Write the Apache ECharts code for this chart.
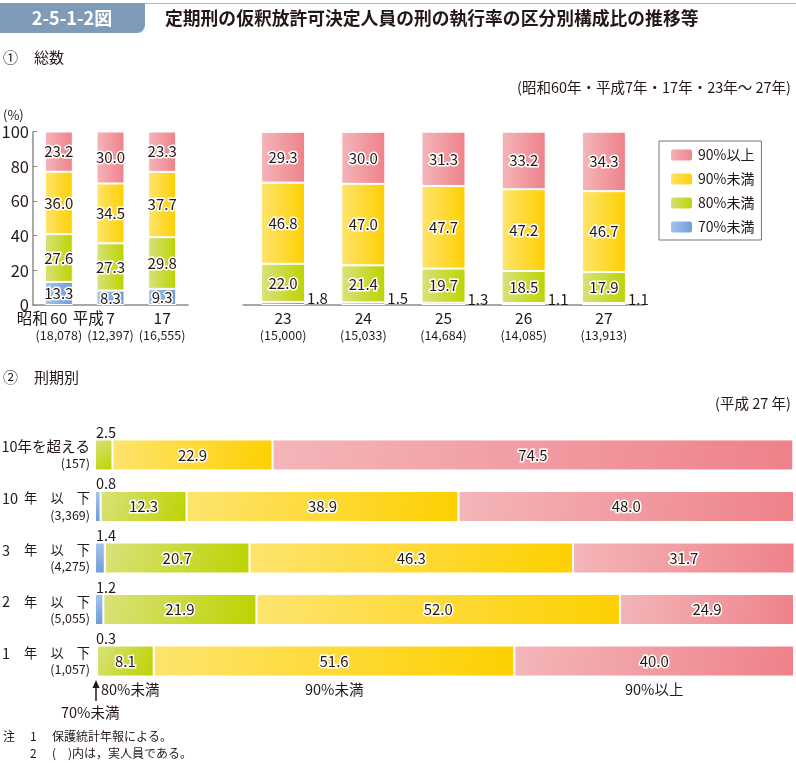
<!DOCTYPE html>
<html><head><meta charset="utf-8">
<script src="https://cdn.jsdelivr.net/npm/echarts@6/dist/echarts.min.js"></script>
<style>html,body{margin:0;padding:0;background:#fff}#c{width:796px;height:763px}</style>
</head><body><div id="c"></div>
<script>
// ---- data ----
const cats1 = ['昭和60', '平成7', '17'];
const people1 = ['18,078', '12,397', '16,555'];
const lt70_1 = [13.3, 8.3, 9.3];
const lt80_1 = [27.6, 27.3, 29.8];
const lt90_1 = [36.0, 34.5, 37.7];
const ge90_1 = [23.2, 30.0, 23.3];

const cats2 = ['23', '24', '25', '26', '27'];
const people2 = ['15,000', '15,033', '14,684', '14,085', '13,913'];
const lt70_2 = [1.8, 1.5, 1.3, 1.1, 1.1];
const lt80_2 = [22.0, 21.4, 19.7, 18.5, 17.9];
const lt90_2 = [46.8, 47.0, 47.7, 47.2, 46.7];
const ge90_2 = [29.3, 30.0, 31.3, 33.2, 34.3];

const cats3 = ['10年を超える', '10年以下', '3年以下', '2年以下', '1年以下'];
const people3 = ['157', '3,369', '4,275', '5,055', '1,057'];
const lt70_3 = [0, 0.8, 1.4, 1.2, 0.3];
const lt80_3 = [2.5, 12.3, 20.7, 21.9, 8.1];
const lt90_3 = [22.9, 38.9, 46.3, 52.0, 51.6];
const ge90_3 = [74.5, 48.0, 31.7, 24.9, 40.0];

const yTicks = [0, 20, 40, 60, 80, 100];

// ---- styles ----
const FONT = '"Noto Sans CJK JP", "Noto Sans", sans-serif';
const TXT = '#231815';
const NAMES = {lt70: '70%未満', lt80: '80%未満', lt90: '90%未満', ge90: '90%以上'};
const COLORS = {
  ge90: ['#f4b6b9', '#ee818a'],
  lt90: ['#fee46f', '#fdd000'],
  lt80: ['#d9e27b', '#bdd300'],
  lt70: ['#a9c6ec', '#6b9ad6']
};
function grad(key, diag) {
  const c = COLORS[key];
  return new echarts.graphic.LinearGradient(0, 0, 1, diag ? 1 : 0, [{offset: 0, color: c[0]}, {offset: 1, color: c[1]}]);
}
const baseLabel = {show: true, color: TXT, fontSize: 15, fontFamily: FONT, textBorderColor: '#fff', textBorderWidth: 3,
  formatter: p => (p.value ? Number(p.value).toFixed(1) : '')};

function mk(key, data, idx, stack, diag, barWidth, label) {
  return {
    type: 'bar', name: NAMES[key], data: data, stack: stack,
    xAxisIndex: idx, yAxisIndex: idx, barWidth: barWidth,
    itemStyle: {color: grad(key, diag), borderColor: '#fff', borderWidth: 1},
    label: Object.assign({}, baseLabel, {position: 'inside'}, label || {}),
    emphasis: {disabled: true}, animation: false
  };
}

function catLabel(v, i, ppl) {
  const m = v.match(/^(\D*)(\d+)$/);
  if (m && m[1]) return `{e|${m[1]}}{a|${m[2]}}{p|}\n{b|(${ppl[i]})}`;
  return `{a|${v}}\n{b|(${ppl[i]})}`;
}
const catRich = {
  e: {fontSize: 15.5, color: TXT, width: 36, align: 'right', lineHeight: 17, fontFamily: FONT},
  a: {fontSize: 15.5, color: TXT, lineHeight: 17, fontFamily: FONT},
  p: {width: 36, lineHeight: 17},
  b: {fontSize: 12.5, color: TXT, lineHeight: 16, fontFamily: FONT}
};

function rowLabel(v, i) {
  let head;
  const m = v.match(/^(\d+)年以下$/);
  if (m) head = `{n|${m[1]}}{t|年　以　下}`;
  else head = `{h|${v}}`;
  return `${head}\n{s|(${people3[i]})}`;
}

const lt70_3d = lt70_3.map(v => ({value: v}));
const aboveLabel = {position: [1, -7], align: 'left', verticalAlign: 'middle', fontSize: 14.5, textBorderWidth: 0};
const lt80_3d = lt80_3.map((v, i) => lt70_3[i] === 0 ? {value: v, label: aboveLabel} : {value: v});

const chart = echarts.init(document.getElementById('c'));
chart.setOption({
  animation: false,
  textStyle: {fontFamily: FONT, color: TXT},
  legend: {
    left: 659, top: 141, orient: 'vertical',
    data: [NAMES.ge90, NAMES.lt90, NAMES.lt80, NAMES.lt70],
    itemWidth: 23, itemHeight: 13, itemGap: 8,
    borderColor: '#777', borderWidth: 1, padding: [6, 7, 5, 10],
    textStyle: {fontSize: 14, color: TXT, lineHeight: 16, fontFamily: FONT},
    selectedMode: false
  },
  grid: [
    {left: 33, top: 131.7, width: 155, height: 173.3, outerBoundsMode: 'none', containLabel: false},
    {left: 243, top: 131.7, width: 401, height: 173.3, outerBoundsMode: 'none', containLabel: false},
    {left: 95, right: 2, top: 429.2, height: 257.6, outerBoundsMode: 'none', containLabel: false}
  ],
  xAxis: [
    {type: 'category', gridIndex: 0, data: cats1,
      axisLine: {lineStyle: {color: '#8c8c8c', width: 1.5}}, axisTick: {show: false},
      axisLabel: {margin: 5, interval: 0, formatter: (v, i) => catLabel(v, i, people1), rich: catRich}},
    {type: 'category', gridIndex: 1, data: cats2,
      axisLine: {lineStyle: {color: '#8c8c8c', width: 1.5}}, axisTick: {show: false},
      axisLabel: {margin: 5, interval: 0, formatter: (v, i) => catLabel(v, i, people2), rich: catRich}},
    {type: 'value', gridIndex: 2, min: 0, max: 100, show: false}
  ],
  yAxis: [
    {type: 'value', gridIndex: 0, min: 0, max: 100, interval: 20,
      axisLine: {show: true, lineStyle: {color: '#8c8c8c', width: 1.5}},
      axisTick: {show: true, inside: true, length: 4, lineStyle: {color: '#8c8c8c'}},
      splitLine: {show: false},
      axisLabel: {fontSize: 16.5, color: TXT, margin: 4, formatter: v => yTicks.includes(v) ? String(v) : ''}},
    {type: 'value', gridIndex: 1, min: 0, max: 100, show: false},
    {type: 'category', gridIndex: 2, data: cats3, inverse: true,
      axisLine: {show: false}, axisTick: {show: false},
      axisLabel: {margin: 5, interval: 0, align: 'right', formatter: rowLabel,
        rich: {
          h: {fontSize: 14.5, color: TXT, lineHeight: 17},
          n: {fontSize: 14.5, color: TXT, width: 22, align: 'left', lineHeight: 17},
          t: {fontSize: 13.2, color: TXT, lineHeight: 17},
          s: {fontSize: 12.5, color: TXT, lineHeight: 16, align: 'right'}
        }}}
  ],
  series: [
    mk('lt70', lt70_1, 0, 's1', false, 28),
    mk('lt80', lt80_1, 0, 's1', false, 28),
    mk('lt90', lt90_1, 0, 's1', false, 28),
    mk('ge90', ge90_1, 0, 's1', false, 28),

    mk('lt70', lt70_2, 1, 's2', false, 44, {position: 'right', distance: 2, offset: [0, -5], textBorderWidth: 0}),
    mk('lt80', lt80_2, 1, 's2', false, 44),
    mk('lt90', lt90_2, 1, 's2', false, 44),
    mk('ge90', ge90_2, 1, 's2', false, 44),

    mk('lt70', lt70_3d, 2, 's3', true, 31, aboveLabel),
    mk('lt80', lt80_3d, 2, 's3', true, 31),
    mk('lt90', lt90_3, 2, 's3', true, 31),
    mk('ge90', ge90_3, 2, 's3', true, 31)
  ],
  graphic: [
    {type: 'line', shape: {x1: 140, y1: 3.5, x2: 796, y2: 3.5}, style: {stroke: '#a7b9cc', lineWidth: 1}},
    {type: 'rect', shape: {x: 0, y: 3, width: 145, height: 30, r: [0, 0, 8, 0]}, style: {fill: '#7f9bb8'}},
    {type: 'text', x: 72, y: 18, style: {text: '2-5-1-2図', fill: '#fff', font: 'bold 18px ' + FONT, textAlign: 'center', textVerticalAlign: 'middle'}},
    {type: 'text', x: 165, y: 18, style: {text: '定期刑の仮釈放許可決定人員の刑の執行率の区分別構成比の推移等', fill: TXT, font: 'bold 17.8px ' + FONT, textVerticalAlign: 'middle'}},
    {type: 'text', x: 3, y: 57, style: {text: '①', fill: TXT, font: '15px ' + FONT, textVerticalAlign: 'middle'}},
    {type: 'text', x: 34, y: 57, style: {text: '総数', fill: TXT, font: '15px ' + FONT, textVerticalAlign: 'middle'}},
    {type: 'text', x: 791, y: 87, style: {text: '(昭和60年・平成7年・17年・23年～ 27年)', fill: TXT, font: '14.5px ' + FONT, textAlign: 'right', textVerticalAlign: 'middle'}},
    {type: 'text', x: 3, y: 115, style: {text: '(%)', fill: TXT, font: '13px ' + FONT, textVerticalAlign: 'middle'}},
    {type: 'text', x: 3, y: 377, style: {text: '②', fill: TXT, font: '15px ' + FONT, textVerticalAlign: 'middle'}},
    {type: 'text', x: 34, y: 377, style: {text: '刑期別', fill: TXT, font: '15px ' + FONT, textVerticalAlign: 'middle'}},
    {type: 'text', x: 791, y: 403, style: {text: '(平成 27 年)', fill: TXT, font: '14.5px ' + FONT, textAlign: 'right', textVerticalAlign: 'middle'}},
    {type: 'line', shape: {x1: 96, y1: 685, x2: 96, y2: 701}, style: {stroke: TXT, lineWidth: 1.5}},
    {type: 'polygon', shape: {points: [[96, 680], [92.5, 688], [99.5, 688]]}, style: {fill: TXT}},
    {type: 'text', x: 101, y: 689, style: {text: '80%未満', fill: TXT, font: '14.5px ' + FONT, textVerticalAlign: 'middle'}},
    {type: 'text', x: 305, y: 689, style: {text: '90%未満', fill: TXT, font: '14.5px ' + FONT, textVerticalAlign: 'middle'}},
    {type: 'text', x: 625, y: 689, style: {text: '90%以上', fill: TXT, font: '14.5px ' + FONT, textVerticalAlign: 'middle'}},
    {type: 'text', x: 61, y: 712, style: {text: '70%未満', fill: TXT, font: '14.5px ' + FONT, textVerticalAlign: 'middle'}},
    {type: 'text', x: 3, y: 736, style: {text: '注', fill: TXT, font: '12px ' + FONT, textVerticalAlign: 'middle'}},
    {type: 'text', x: 30, y: 736, style: {text: '1', fill: TXT, font: '12px ' + FONT, textVerticalAlign: 'middle'}},
    {type: 'text', x: 52, y: 736, style: {text: '保護統計年報による。', fill: TXT, font: '12px ' + FONT, textVerticalAlign: 'middle'}},
    {type: 'text', x: 30, y: 753, style: {text: '2', fill: TXT, font: '12px ' + FONT, textVerticalAlign: 'middle'}},
    {type: 'text', x: 52, y: 753, style: {text: '(　)内は，実人員である。', fill: TXT, font: '12px ' + FONT, textVerticalAlign: 'middle'}}
  ]
});
</script>
</body></html>
